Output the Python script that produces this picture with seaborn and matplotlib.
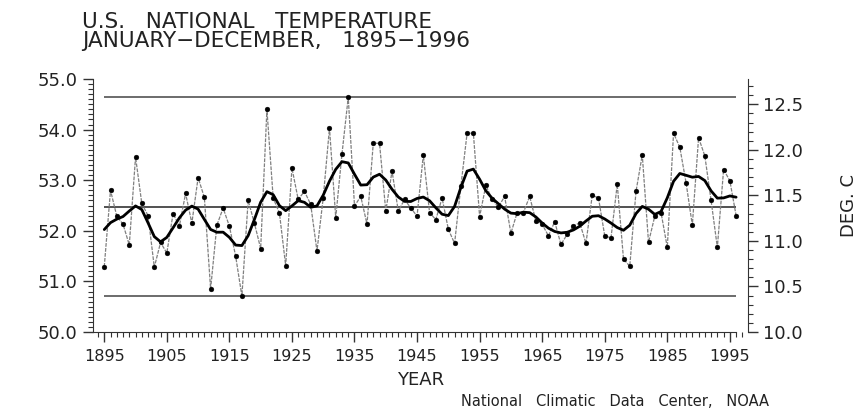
import numpy as np
import pandas as pd
import matplotlib
matplotlib.use("Agg")
import matplotlib.pyplot as plt
import seaborn as sns
from matplotlib.ticker import MultipleLocator, FormatStrFormatter

# annual US mean temperature (deg F)
years = list(range(1895, 1997))
temps_f = [
    51.29, 52.80, 52.29, 52.13, 51.72, 53.46, 52.54, 52.30, 51.28, 51.77,  # 1895-1904
    51.56, 52.34, 52.09, 52.74, 52.15, 53.05, 52.66, 50.85, 52.11, 52.45,  # 1905-1914
    52.09, 51.50, 50.71, 52.60, 52.15, 51.65, 54.40, 52.65, 52.35, 51.31,  # 1915-1924
    53.24, 52.62, 52.78, 52.52, 51.60, 52.65, 54.03, 52.26, 53.52, 54.64,  # 1925-1934
    52.49, 52.68, 52.13, 53.73, 53.73, 52.39, 53.18, 52.39, 52.62, 52.45,  # 1935-1944
    52.29, 53.50, 52.36, 52.22, 52.65, 52.03, 51.75, 52.88, 53.93, 53.93,  # 1945-1954
    52.28, 52.90, 52.62, 52.47, 52.68, 51.95, 52.36, 52.36, 52.68, 52.19,  # 1955-1964
    52.13, 51.90, 52.18, 51.73, 51.93, 52.09, 52.16, 51.75, 52.70, 52.65,  # 1965-1974
    51.90, 51.86, 52.92, 51.44, 51.30, 52.78, 53.50, 51.77, 52.29, 52.36,  # 1975-1984
    51.67, 53.93, 53.65, 52.95, 52.11, 53.84, 53.48, 52.60, 51.67, 53.21,  # 1985-1994
    52.99, 52.30,                                                          # 1995-1996
]
year_ticks = [1895, 1905, 1915, 1925, 1935, 1945, 1955, 1965, 1975, 1985, 1995]

df = pd.DataFrame({"year": years, "temp": temps_f})

# 9 point binomial filter, weights renormalised at the ends
w = np.array([1, 8, 28, 56, 70, 56, 28, 8, 1], dtype=float)
vals = df["temp"].to_numpy()
smooth = []
for i in range(len(vals)):
    lo, hi = max(0, i - 4), min(len(vals), i + 5)
    ww = w[lo - i + 4:hi - i + 4]
    smooth.append((vals[lo:hi] * ww).sum() / ww.sum())
df["smooth"] = smooth

sns.set_style("ticks")
plt.rcParams['font.family'] = ['DejaVu Sans']

fig = plt.figure(figsize=(8.62, 4.09), dpi=100)
ax = fig.add_axes([93 / 862, 1 - 332 / 409, (748 - 93) / 862, (332 - 79) / 409])

# mean, max and min reference lines
for v, c in [(df["temp"].mean(), "#222222"), (df["temp"].max(), "#444444"), (df["temp"].min(), "#444444")]:
    ax.hlines(v, years[0], years[-1], color=c, lw=1.1, zorder=1)

sns.lineplot(data=df, x="year", y="temp", ax=ax, color="#808080", lw=0.9,
             linestyle=(0, (3, 1)), zorder=2)
sns.scatterplot(data=df, x="year", y="temp", ax=ax, color="black", s=12,
                marker="o", edgecolor="black", zorder=3)
sns.lineplot(data=df, x="year", y="smooth", ax=ax, color="black", lw=2.0, zorder=4)

ax.set_xlim(1893.2, 1997.9)
ax.set_ylim(50, 55)
ax.set_xticks(year_ticks)
ax.xaxis.set_minor_locator(MultipleLocator(1))
ax.yaxis.set_major_locator(MultipleLocator(1))
ax.yaxis.set_minor_locator(MultipleLocator(0.1))
ax.yaxis.set_major_formatter(FormatStrFormatter("%.1f"))
ax.tick_params(axis="both", which="major", direction="out", length=7, width=1,
               color="#333333")
ax.tick_params(axis="both", which="minor", direction="out", length=3.5, width=0.8,
               color="#333333")
ax.tick_params(axis="x", labelsize=11.5, pad=5, labelcolor="#222222")
ax.tick_params(axis="y", labelsize=13, pad=4, labelcolor="#222222")
ax.spines["top"].set_visible(False)
ax.spines["right"].set_visible(False)
ax.spines["bottom"].set_bounds(1893.2, 1996)
for s in ["left", "bottom"]:
    ax.spines[s].set_color("#333333")
ax.set_xlabel("YEAR", fontsize=13, labelpad=5, color="#222222")
ax.set_ylabel("")

ax2 = ax.twinx()
ax2.set_ylim((50 - 32) / 1.8, (55 - 32) / 1.8)
ax2.yaxis.set_major_locator(MultipleLocator(0.5))
ax2.yaxis.set_minor_locator(MultipleLocator(0.1))
ax2.yaxis.set_major_formatter(FormatStrFormatter("%.1f"))
ax2.tick_params(axis="y", which="major", direction="out", length=7, width=1,
                color="#333333", labelsize=13, pad=4, labelcolor="#222222")
ax2.tick_params(axis="y", which="minor", direction="out", length=3.5, width=0.8,
                color="#333333")
for s in ["top", "left", "bottom"]:
    ax2.spines[s].set_visible(False)
ax2.spines["right"].set_color("#333333")
ax2.set_ylabel("DEG. C", fontsize=13, labelpad=26, color="#222222")

fig.text(82 / 862, 1 - 12 / 409, "U.S.   NATIONAL   TEMPERATURE", fontsize=15.5,
         va="top", ha="left", color="#222222")
fig.text(82 / 862, 1 - 31 / 409, "JANUARY\u2212DECEMBER,   1895\u22121996", fontsize=15.5,
         va="top", ha="left", color="#222222")
fig.text(615 / 862, 1 - 401 / 409, "National   Climatic   Data   Center,   NOAA",
         fontsize=10.5, ha="center", va="center", color="#222222")

fig.savefig("out.png", dpi=100)
